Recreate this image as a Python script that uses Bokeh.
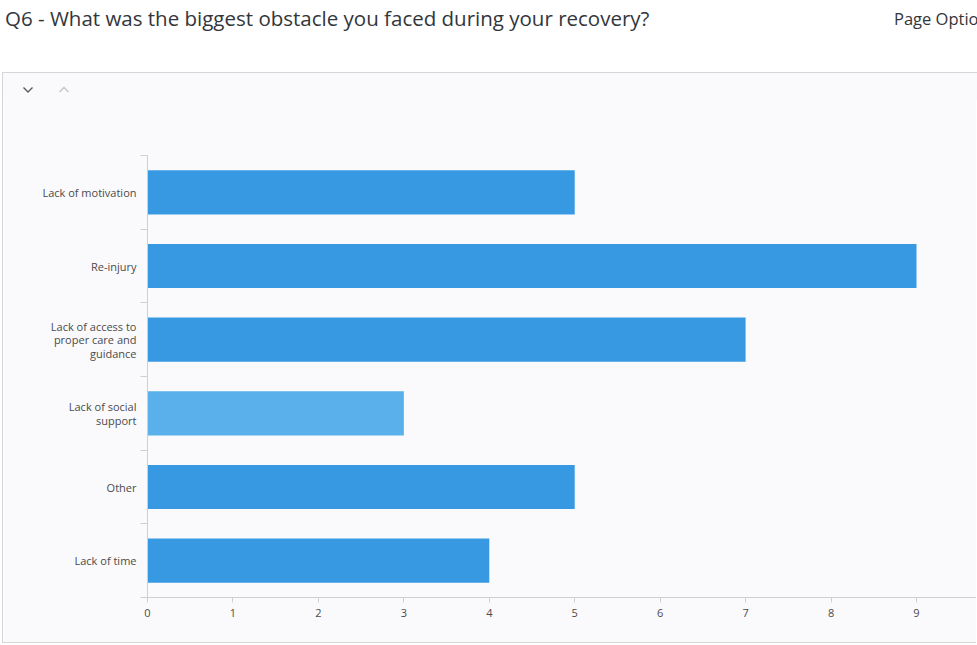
from bokeh.plotting import figure
from bokeh.layouts import column
from bokeh.models import Range1d, FixedTicker, SingleIntervalTicker, Div
from bokeh.embed import file_html
from bokeh.resources import INLINE

title_text = "Q6 - What was the biggest obstacle you faced during your recovery?"
page_options = "Page Options"
categories = [
    "Lack of motivation",
    "Re-injury",
    "Lack of access to\nproper care and\nguidance",
    "Lack of social\nsupport",
    "Other",
    "Lack of time",
]
counts = [5, 9, 7, 3, 5, 4]
highlighted = [False, False, False, True, False, False]

BAR = "#3899e3"
BAR_HI = "#5ab0ea"
PANEL = "#fafafc"
AXIS = "#cfcfcf"
EDGE = "#d6d6d6"
FONT = "Open Sans"

n = len(categories)
ys = [n - 1 - i + 0.5 for i in range(n)]
colors = [BAR_HI if h else BAR for h in highlighted]

chev_down = ('<svg width="12" height="8" style="position:absolute;left:22px;top:86px;">'
             '<polyline points="1.5,1.5 6,6 10.5,1.5" fill="none" stroke="#5a5a5a" '
             'stroke-width="1.4"/></svg>')
chev_up = ('<svg width="12" height="8" style="position:absolute;left:58px;top:86px;">'
           '<polyline points="1.5,6 6,1.5 10.5,6" fill="none" stroke="#c4c4c4" '
           'stroke-width="1.4"/></svg>')

header = Div(
    text=(
        f'<div style="position:relative;width:977px;height:100px;overflow:hidden;'
        f'white-space:nowrap;font-family:\'{FONT}\';color:#32363a;">'
        f'<span style="position:absolute;left:5px;top:4px;font-size:20.5px;">{title_text}</span>'
        f'<span style="position:absolute;left:894px;top:7px;font-size:16.5px;">{page_options}</span>'
        f'<div style="position:absolute;left:2px;top:72px;width:975px;height:28px;'
        f'background:{PANEL};border-top:1px solid {EDGE};border-left:1px solid {EDGE};"></div>'
        f'{chev_down}{chev_up}'
        f'</div>'
    ),
    width=977, height=100, margin=0,
)

p = figure(width=974, height=544, x_range=Range1d(0, 9.714), y_range=Range1d(0, n),
           output_backend="svg", toolbar_location=None,
           min_border_left=144, min_border_top=56, min_border_bottom=46, min_border_right=0,
           margin=(-1, 0, 0, 2))
p.background_fill_color = PANEL
p.border_fill_color = PANEL
p.outline_line_color = None
p.grid.grid_line_color = None
p.styles = {"border-left": f"1px solid {EDGE}", "border-bottom": f"1px solid {EDGE}"}

p.hbar(y=ys, left=0, right=counts, height=0.6, color=colors, line_color=None)

ya = p.yaxis[0]
ya.ticker = FixedTicker(ticks=ys, minor_ticks=list(range(n + 1)))
ya.major_label_overrides = {y: c for y, c in zip(ys, categories)}
ya.major_tick_line_color = None
ya.major_tick_out = 0
ya.major_tick_in = 0
ya.minor_tick_line_color = AXIS
ya.minor_tick_out = 7
ya.minor_tick_in = 0
ya.axis_line_color = AXIS
ya.major_label_standoff = 4
ya.major_label_text_font = FONT
ya.major_label_text_font_size = "11px"
ya.major_label_text_color = "#4a4a4a"
ya.major_label_text_line_height = 0.9

xa = p.xaxis[0]
xa.ticker = SingleIntervalTicker(interval=1, num_minor_ticks=0)
xa.axis_line_color = AXIS
xa.major_tick_line_color = AXIS
xa.major_tick_out = 5
xa.major_tick_in = 0
xa.minor_tick_line_color = None
xa.major_label_standoff = 6
xa.major_label_text_font = FONT
xa.major_label_text_font_size = "11px"
xa.major_label_text_color = "#4a4a4a"

layout = column(header, p, spacing=0)
open("out.html", "w").write(file_html(layout, INLINE))
